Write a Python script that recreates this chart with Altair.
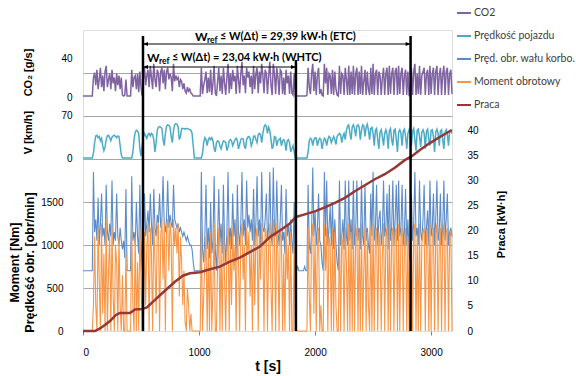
import altair as alt
import pandas as pd

# ---------------- data ----------------
T_STEP = 10  # sampling interval of the traces [s]

CO2 = [  # g/s
    1, 1, 1, 1, 1, 1, 1, 1, 1, 20,
    25, 12, 28, 8, 18, 30, 10, 22, 6, 26,
    32, 10, 18, 24, 8, 28, 14, 20, 6, 24,
    12, 22, 8, 20, 2, 1, 2, 18, 1, 1,
    1, 1, 28, 10, 20, 22, 8, 24, 5, 26,
    10, 1, 18, 30, 12, 22, 28, 10, 32, 20,
    8, 34, 18, 10, 28, 24, 6, 26, 30, 14,
    28, 8, 26, 30, 18, 24, 20, 6, 34, 16,
    22, 18, 20, 10, 18, 16, 8, 14, 6, 4,
    10, 6, 8, 4, 3, 1, 1, 1, 1, 1,
    1, 1, 30, 3, 12, 18, 26, 4, 20, 5,
    28, 2, 14, 32, 4, 1, 16, 30, 6, 22,
    3, 30, 14, 2, 20, 34, 4, 24, 8, 28,
    16, 22, 3, 32, 18, 4, 24, 36, 12, 22,
    4, 30, 20, 26, 10, 22, 3, 32, 8, 24,
    30, 4, 26, 14, 34, 22, 4, 28, 24, 3,
    22, 36, 12, 2, 34, 24, 3, 30, 20, 2,
    28, 26, 3, 20, 2, 28, 14, 22, 3, 26,
    4, 2, 24, 1, 1, 1, 1, 1, 1, 1,
    1, 1, 1, 2, 30, 10, 3, 24, 34, 6,
    26, 2, 22, 30, 3, 8, 2, 1, 34, 14,
    30, 2, 24, 22, 3, 28, 2, 26, 8, 2,
    1, 32, 3, 24, 22, 2, 30, 18, 2, 32,
    2, 26, 3, 32, 2, 24, 30, 2, 26, 3,
    32, 2, 16, 28, 2, 26, 8, 2, 30, 3,
    34, 2, 24, 28, 2, 26, 22, 2, 20, 30,
    2, 24, 30, 2, 32, 3, 24, 30, 2, 26,
    30, 2, 32, 3, 24, 30, 2, 22, 28, 2,
    26, 2, 3, 30, 2, 26, 34, 2, 24, 3,
    32, 2, 22, 26, 30, 2, 24, 28, 2, 32,
    3, 24, 30, 2, 26, 32, 2, 22, 30, 2,
    24, 32, 2, 26, 30, 2, 24, 28, 3,
]

SPEED = [  # km/h
    0, 0, 0, 0, 0, 0, 0, 0, 0, 8,
    25, 36, 37, 33, 35, 28, 32, 20, 12, 18,
    30, 36, 37, 33, 28, 34, 36, 37, 35, 33,
    36, 35, 20, 5, 0, 0, 0, 0, 0, 0,
    0, 0, 0, 10, 30, 42, 45, 44, 40, 15,
    3, 20, 35, 40, 36, 32, 38, 40, 36, 40,
    38, 30, 10, 25, 45, 50, 51, 50, 48, 30,
    20, 40, 52, 54, 53, 50, 35, 25, 45, 54,
    56, 55, 50, 30, 35, 48, 48, 48, 47, 48,
    48, 47, 46, 45, 40, 20, 0, 0, 0, 0,
    0, 0, 0, 8, 25, 33, 30, 20, 30, 33,
    30, 33, 28, 15, 10, 25, 28, 27, 20, 15,
    22, 28, 27, 25, 12, 18, 28, 30, 28, 20,
    25, 30, 32, 28, 15, 22, 30, 32, 31, 20,
    15, 30, 34, 35, 32, 20, 25, 35, 36, 30,
    25, 38, 40, 38, 25, 40, 50, 54, 52, 40,
    50, 45, 30, 15, 20, 35, 34, 20, 28, 30,
    32, 20, 28, 30, 25, 12, 28, 30, 25, 10,
    15, 20, 10, 0, 0, 0, 0, 0, 0, 0,
    0, 0, 0, 0, 10, 28, 32, 30, 20, 30,
    33, 32, 20, 28, 32, 30, 15, 25, 32, 30,
    20, 30, 35, 33, 25, 30, 35, 30, 22, 35,
    38, 40, 38, 25, 35, 40, 30, 45, 52, 54,
    40, 30, 50, 54, 48, 35, 52, 54, 50, 30,
    45, 54, 52, 35, 50, 55, 45, 30, 48, 50,
    40, 20, 45, 48, 30, 15, 42, 46, 35, 20,
    40, 46, 38, 15, 44, 48, 30, 20, 45, 47,
    30, 10, 42, 46, 40, 20, 44, 47, 35, 15,
    40, 46, 40, 20, 44, 48, 30, 12, 45, 47,
    35, 18, 42, 46, 40, 15, 44, 47, 30, 20,
    45, 46, 35, 10, 42, 47, 40, 20, 44, 46,
    30, 15, 42, 46, 38, 20, 44, 45, 40,
]

RPM = [  # obr/min
    700, 700, 700, 700, 700, 700, 700, 700, 700, 1850,
    1150, 1300, 1050, 1550, 1000, 1250, 1600, 1100, 1200, 1000,
    1700, 1150, 1050, 1250, 1100, 1750, 1000, 1150, 1050, 1600,
    1100, 1000, 1200, 1050, 950, 1050, 850, 1650, 700, 700,
    700, 700, 1800, 1050, 1150, 1000, 1500, 1100, 900, 1700,
    1050, 700, 1000, 1600, 1100, 1250, 1400, 1150, 1600, 1250,
    1000, 1650, 1200, 1100, 1350, 1250, 1600, 1200, 1300, 1800,
    1250, 1150, 1300, 1750, 1200, 1350, 1250, 1200, 1700, 1300,
    1250, 1200, 1250, 1150, 1200, 1150, 1100, 1150, 1100, 1050,
    1100, 1050, 1000, 1000, 950, 800, 700, 700, 700, 700,
    700, 700, 1850, 950, 800, 1100, 1700, 950, 1200, 850,
    1500, 900, 1050, 1800, 950, 700, 1100, 1650, 1000, 1250,
    900, 1700, 1050, 800, 1150, 1850, 1000, 1200, 950, 1600,
    1100, 1300, 800, 1700, 1150, 1000, 1250, 1850, 1100, 1300,
    1000, 1750, 1200, 1350, 1150, 1300, 1050, 1650, 1000, 1250,
    1800, 1100, 1300, 1000, 1850, 1200, 1150, 1300, 1600, 1050,
    1200, 1850, 1150, 1000, 1900, 1200, 1100, 1750, 1150, 1000,
    1300, 1700, 1050, 1150, 900, 1650, 1100, 1250, 1000, 1300,
    1050, 900, 1500, 700, 700, 750, 700, 700, 700, 700,
    700, 750, 700, 700, 1700, 1000, 900, 1150, 1900, 1100,
    1400, 1000, 1200, 1600, 1050, 1000, 800, 700, 1850, 1100,
    1750, 1000, 1200, 1450, 1000, 1500, 950, 1300, 1000, 800,
    700, 1750, 1000, 1100, 1300, 950, 1750, 1100, 1000, 1750,
    1050, 1300, 950, 1750, 1000, 1150, 1750, 1050, 1200, 950,
    1750, 1100, 1000, 1700, 1050, 1200, 1000, 900, 1600, 1100,
    1850, 1050, 1200, 1700, 1000, 1300, 1400, 1000, 1150, 1750,
    1100, 1200, 1600, 950, 1700, 1050, 1200, 1750, 1000, 1300,
    1700, 1050, 1750, 1100, 1200, 1700, 1000, 1150, 1650, 1000,
    1300, 900, 800, 1600, 1050, 1250, 1850, 1100, 1200, 1000,
    1750, 1150, 1050, 1300, 1700, 1000, 1200, 1400, 1000, 1750,
    1100, 1200, 1600, 1000, 1300, 1750, 1050, 1150, 1600, 1000,
    1200, 1750, 1050, 1300, 1600, 1000, 1150, 1200, 1100,
]

TORQUE = [  # Nm
    0, 0, 0, 0, 0, 0, 0, 0, 0, 300,
    1100, 300, 0, 1200, 600, 0, 1250, 200, 900, 0,
    1300, 0, 700, 1100, 0, 1200, 400, 0, 1000, 800,
    0, 1100, 300, 0, 650, 0, 0, 900, 0, 0,
    0, 0, 1200, 300, 0, 1100, 0, 800, 0, 1200,
    600, 0, 0, 1150, 300, 1000, 1250, 0, 1200, 900,
    0, 1300, 800, 200, 1200, 1250, 0, 1100, 1300, 600,
    1250, 0, 1200, 1300, 700, 1250, 1100, 0, 1300, 1000,
    1200, 900, 1250, 400, 1100, 800, 300, 700, 100, 0,
    500, 300, 0, 200, 0, 0, 0, 0, 0, 0,
    0, 0, 1200, 0, 400, 800, 1100, 0, 1000, 0,
    1150, 0, 500, 1250, 0, 0, 800, 1200, 0, 1000,
    0, 1250, 600, 0, 900, 1200, 0, 1100, 300, 1200,
    700, 1000, 0, 1300, 800, 0, 1100, 1250, 600, 1000,
    0, 1200, 900, 1150, 400, 1000, 0, 1250, 300, 1100,
    1200, 0, 1150, 600, 1250, 1000, 0, 1200, 1100, 0,
    1000, 1250, 500, 0, 1300, 1100, 0, 1250, 900, 0,
    1200, 1100, 0, 900, 0, 1200, 600, 1000, 0, 1150,
    0, 0, 1000, 0, 0, 0, 0, 0, 0, 0,
    0, 0, 0, 0, 1200, 400, 0, 1100, 1250, 200,
    1100, 0, 1000, 1200, 0, 300, 0, 0, 1250, 700,
    1200, 0, 1100, 1000, 0, 1200, 0, 1150, 300, 0,
    0, 1250, 0, 1100, 1000, 0, 1200, 800, 0, 1250,
    0, 1150, 0, 1250, 0, 1100, 1200, 0, 1150, 0,
    1250, 0, 700, 1200, 0, 1150, 300, 0, 1200, 0,
    1250, 0, 1100, 1200, 0, 1150, 1000, 0, 900, 1250,
    0, 1100, 1200, 0, 1250, 0, 1100, 1200, 0, 1150,
    1200, 0, 1250, 0, 1100, 1200, 0, 1000, 1200, 0,
    1100, 0, 0, 1200, 0, 1150, 1250, 0, 1100, 0,
    1250, 0, 1000, 1150, 1200, 0, 1100, 1200, 0, 1250,
    0, 1100, 1200, 0, 1150, 1250, 0, 1000, 1200, 0,
    1100, 1250, 0, 1150, 1200, 0, 1100, 1150, 0,
]

WORK_T = [0, 103, 146, 189, 233, 284, 319, 405, 448, 508, 551, 620, 706, 792,
          861, 922, 1008, 1094, 1180, 1266, 1352, 1438, 1525, 1611, 1697, 1783,
          1835, 1912, 1998, 2084, 2171, 2257, 2343, 2429, 2515, 2601, 2687,
          2773, 2834, 2903, 2989, 3075, 3178]
WORK = [0, 0, 0.5, 1.2, 2.0, 3.2, 3.6, 3.6, 4.3, 4.4, 4.7, 6.2, 8.0, 9.8,
        11.0, 11.5, 11.7, 12.3, 12.8, 13.8, 14.6, 15.7, 16.8, 18.7, 20.0, 21.4,
        22.7, 23.2, 23.8, 24.6, 25.5, 26.5, 27.8, 29.0, 30.2, 31.2, 32.5,
        34.0, 34.8, 36.0, 37.4, 38.6, 40.0]  # kW·h

MARK_T = [517, 1835, 2823]  # window boundaries [s]

NAMES = ["CO2", "Prędkość pojazdu", "Pręd. obr. wału korbo.", "Moment obrotowy", "Praca"]
COLORS = ["#8064A2", "#4BACC6", "#5B8CC8", "#F79646", "#953735"]

TXT_ETC = "≤ W(Δt) = 29,39 kW·h (ETC)"
TXT_WHTC = "≤ W(Δt) = 23,04 kW·h (WHTC)"

FONT = "Lato"


def series_df(values, name):
    return pd.DataFrame({"t": [i * T_STEP for i in range(len(values))], "v": values, "s": name})


df_co2 = series_df(CO2, NAMES[0])
df_v = series_df(SPEED, NAMES[1])
df_rpm = series_df(RPM, NAMES[2])
df_m = series_df(TORQUE, NAMES[3])
df_w = pd.DataFrame({"t": WORK_T, "v": WORK, "s": NAMES[4]})

X_SCALE = alt.Scale(domain=[0, 3180], nice=False, zero=False)
COLOR_SCALE = alt.Scale(domain=NAMES, range=COLORS)

X_AXIS = alt.Axis(orient="bottom", values=[0, 1000, 2000, 3000], format="d", title="t [s]",
                  domain=False, grid=False, tickColor="#808080", tickSize=4, labelPadding=12,
                  titlePadding=2, titleFontSize=14)

LEGEND = alt.Legend(title=None, orient="none", legendX=373, legendY=-25, symbolType="stroke",
                    symbolSize=196, symbolStrokeWidth=2, labelFontSize=10.5, labelFont=FONT,
                    labelColor="#404040", rowPadding=9, labelOffset=2, padding=0)


def xenc(field="t"):
    return alt.X(f"{field}:Q", scale=X_SCALE, axis=X_AXIS)


def line(df, scale, axis, width, legend=None):
    return alt.Chart(df).mark_line(strokeWidth=width).encode(
        x=xenc(),
        y=alt.Y("v:Q", scale=scale, axis=axis),
        color=alt.Color("s:N", scale=COLOR_SCALE, legend=legend),
    )


co2_layer = line(
    df_co2,
    alt.Scale(domain=[0, 40], range=[67, 28], nice=False, zero=False),
    alt.Axis(orient="left", values=[0, 40], format="d", ticks=False, domain=False, grid=False,
             labelPadding=11, title="CO₂ [g/s]", titleX=-55, titleY=42,
             titleBaseline="middle", titleAngle=270),
    1.5, legend=LEGEND,
)
v_layer = line(
    df_v,
    alt.Scale(domain=[0, 70], range=[128, 85], nice=False, zero=False),
    alt.Axis(orient="left", values=[0, 70], format="d", ticks=False, domain=False, grid=False,
             labelPadding=11, title="V [km/h]", titleX=-55, titleY=102,
             titleBaseline="middle", titleAngle=270),
    1.5,
)
rpm_layer = line(
    df_rpm,
    alt.Scale(domain=[0, 3500], nice=False, zero=False),
    alt.Axis(orient="left", values=[0, 500, 1000, 1500], format="d", ticks=False, domain=False,
             grid=False, labelPadding=20, title=["Moment [Nm]", "Prędkość obr. [obr/min]"],
             titleLineHeight=15, titleFontSize=12.5, titleX=-69, titleY=232,
             titleBaseline="middle", titleAngle=270),
    1.1,
)
m_layer = line(
    df_m,
    alt.Scale(domain=[0, 3500], nice=False, zero=False),
    alt.Axis(orient="left", values=[500, 1000, 1500, 2000, 2500, 3000], labels=False, ticks=False,
             domain=False, grid=True, gridColor="#a6a6a6", gridWidth=1, title=None),
    1.1,
)
w_layer = line(
    df_w,
    alt.Scale(domain=[0, 40], range=[301, 100], nice=False, zero=False),
    alt.Axis(orient="right", values=[0, 5, 10, 15, 20, 25, 30, 35, 40], format="d", ticks=False,
             domain=False, grid=False, labelPadding=15, title="Praca [kW·h]",
             titleX=49, titleY=194, titleBaseline="middle", titleAngle=270),
    2.5,
)

df_marks = pd.DataFrame({"t": MARK_T})
outer_rules = alt.Chart(df_marks).transform_filter(
    f"datum.t != {MARK_T[1]}").mark_rule(color="black", strokeWidth=2.5).encode(
    x=xenc(), y=alt.value(6), y2=alt.value(301))
mid_rule = alt.Chart(df_marks).transform_filter(
    f"datum.t == {MARK_T[1]}").mark_rule(color="black", strokeWidth=2.5).encode(
    x=xenc(), y=alt.value(30), y2=alt.value(301))

df_etc = pd.DataFrame({"t1": [MARK_T[0]], "t2": [MARK_T[2]]})
df_whtc = pd.DataFrame({"t1": [MARK_T[0]], "t2": [MARK_T[1]]})

LEFT_HEAD = "M0,0L1,-0.42L1,0.42Z"
RIGHT_HEAD = "M0,0L-1,-0.42L-1,0.42Z"


def arrow(df, ypix):
    base = alt.Chart(df)
    r = base.mark_rule(color="black", strokeWidth=1).encode(
        x=xenc("t1"), x2="t2:Q", y=alt.value(ypix))
    lh = base.mark_point(shape=LEFT_HEAD, filled=True, size=100, color="black", opacity=1).encode(
        x=xenc("t1"), y=alt.value(ypix))
    rh = base.mark_point(shape=RIGHT_HEAD, filled=True, size=100, color="black", opacity=1).encode(
        x=xenc("t2"), y=alt.value(ypix))
    return [r, lh, rh]


def label(df, ypix, dxw, dxr, dxt, txt):
    base = alt.Chart(df)
    w = base.mark_text(text="W", align="left", baseline="middle", dx=dxw, font=FONT,
                       fontSize=12, fontWeight="bold", color="black").encode(
        x=xenc("t1"), y=alt.value(ypix))
    r = base.mark_text(text="ref", align="left", baseline="middle", dx=dxr, dy=3, font=FONT,
                       fontSize=8.5, fontWeight="bold", color="black").encode(
        x=xenc("t1"), y=alt.value(ypix))
    t = base.mark_text(text=txt, align="left", baseline="middle", dx=dxt, font=FONT,
                       fontSize=11, fontWeight="bold", color="black").encode(
        x=xenc("t1"), y=alt.value(ypix))
    return [w, r, t]


layers = [co2_layer, v_layer, rpm_layer, m_layer, w_layer, outer_rules, mid_rule]
layers += arrow(df_etc, 14) + arrow(df_whtc, 37)
layers += label(df_etc, 6.5, 52, 64, 77, TXT_ETC) + label(df_whtc, 27.5, 4, 16, 29, TXT_WHTC)

chart = alt.layer(*layers).resolve_scale(y="independent").resolve_axis(y="independent").properties(
    width=369, height=301,
    padding={"left": 83, "top": 30, "right": 124, "bottom": 45},
    autosize=alt.AutoSizeParams(type="none"),
).configure_view(stroke="#595959", strokeWidth=1).configure_axis(
    labelFont=FONT, labelFontSize=13, labelColor="black",
    titleFont=FONT, titleFontSize=13, titleFontWeight="bold", titleColor="black",
).configure(background="white")

chart.save("out.html", embed_options={"renderer": "svg", "actions": False})
